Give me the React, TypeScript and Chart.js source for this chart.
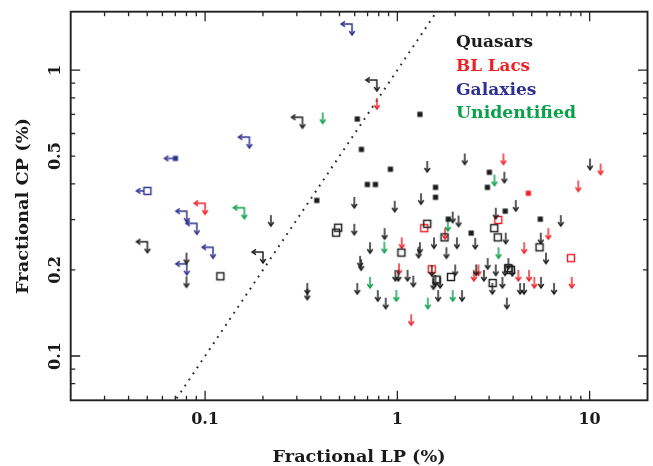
import React, { useEffect, useRef } from "react";
import { Chart, registerables } from "chart.js";

Chart.register(...registerables);

type Pt = [number, number]; // [fractional LP %, fractional CP %]

// ---------- axis ranges & labels ----------
const LP_RANGE = [0.02, 20];
const CP_RANGE = [0.07, 1.6];
const LP_TICK_VALUES = [0.1, 1, 10];
const LP_TICK_LABELS = ["0.1", "1", "10"];
const CP_TICK_VALUES = [0.1, 0.2, 0.5, 1];
const CP_TICK_LABELS = ["0.1", "0.2", "0.5", "1"];
const X_TITLE = "Fractional LP (%)";
const Y_TITLE = "Fractional CP (%)";
const LEGEND_LABELS = ["Quasars", "BL Lacs", "Galaxies", "Unidentified"];
const CP_EQUALS_LP = [0.02, 20];

// ---------- Quasars ----------
const quasarDetected: Pt[] = [
  [0.65, 0.528], [0.92, 0.45], [0.698, 0.398], [0.769, 0.398], [0.381, 0.35],
  [1.58, 0.389], [1.58, 0.359], [1.31, 0.7], [0.619, 0.674], [1.84, 0.301],
  [3.01, 0.439], [2.94, 0.389], [3.64, 0.321], [5.54, 0.301], [2.42, 0.269],
];
const quasarOpen: Pt[] = [
  [0.492, 0.281], [0.48, 0.27], [1.43, 0.29], [1.76, 0.26], [1.05, 0.23],
  [1.6, 0.185], [1.9, 0.189], [3.19, 0.28], [3.33, 0.26], [5.49, 0.24],
  [3.78, 0.203], [3.9, 0.2], [3.13, 0.18], [0.12, 0.19],
];
const quasarCPLimit: Pt[] = [
  [0.08, 0.23], [0.08, 0.19], [0.22, 0.311], [0.34, 0.18], [0.34, 0.172],
  [0.597, 0.36], [0.597, 0.29], [0.969, 0.349], [1.328, 0.371], [1.43, 0.481],
  [2.24, 0.511], [1.94, 0.32], [2.08, 0.31], [0.858, 0.28], [0.721, 0.25],
  [1.31, 0.25], [1.29, 0.241], [1.55, 0.26], [1.8, 0.24], [2.04, 0.26],
  [0.64, 0.224], [0.648, 0.218], [0.976, 0.2], [1.012, 0.2], [1.13, 0.2],
  [1.21, 0.191], [1.51, 0.208], [1.577, 0.192], [1.67, 0.189], [1.54, 0.187],
  [2.0, 0.209], [0.619, 0.18], [0.791, 0.17], [0.87, 0.16], [1.63, 0.17],
  [2.17, 0.17], [3.6, 0.441], [10.05, 0.49], [4.13, 0.351], [3.25, 0.33],
  [7.08, 0.311], [5.57, 0.27], [3.66, 0.27], [2.54, 0.259], [5.93, 0.23],
  [2.57, 0.209], [2.95, 0.22], [2.82, 0.2], [3.25, 0.209], [3.78, 0.22],
  [3.63, 0.209], [3.96, 0.208], [3.12, 0.18], [3.52, 0.189], [5.59, 0.189],
  [4.35, 0.18], [4.56, 0.18], [6.53, 0.18], [3.71, 0.16],
];
const quasarBothLimit: Pt[] = [[0.782, 0.923], [0.321, 0.684], [0.0501, 0.251], [0.2, 0.231]];

// ---------- BL Lacs ----------
const blLacDetected: Pt[] = [[4.8, 0.371]];
const blLacOpen: Pt[] = [[1.38, 0.28], [1.51, 0.201], [3.35, 0.299], [8.0, 0.22]];
const blLacCPLimit: Pt[] = [
  [0.782, 0.798], [3.56, 0.511], [11.4, 0.471], [8.73, 0.411], [1.77, 0.28],
  [1.054, 0.26], [6.1, 0.28], [4.57, 0.25], [1.02, 0.211], [2.5, 0.2],
  [2.64, 0.209], [4.26, 0.2], [4.84, 0.2], [5.16, 0.189], [8.07, 0.189], [1.18, 0.14],
];
const blLacBothLimit: Pt[] = [[0.1, 0.342]];

// ---------- Galaxies ----------
const galaxyLPLimitFilled: Pt[] = [[0.0701, 0.491]];
const galaxyLPLimitOpen: Pt[] = [[0.0501, 0.378]];
const galaxyBothLimit: Pt[] = [
  [0.581, 1.449], [0.17, 0.583], [0.0803, 0.321], [0.0906, 0.291], [0.11, 0.24], [0.0803, 0.21],
];

// ---------- Unidentified ----------
const unidCPLimit: Pt[] = [
  [0.409, 0.711], [3.2, 0.431], [1.83, 0.299], [0.856, 0.251], [3.36, 0.24],
  [0.721, 0.189], [0.988, 0.17], [1.44, 0.16], [1.94, 0.17],
];
const unidBothLimit: Pt[] = [[0.16, 0.33]];

const COL_Q = "#1c1c1c";
const COL_B = "#ec2229";
const COL_G = "#2e3192";
const COL_U = "#0aa04a";
const LEGEND_COLORS = [COL_Q, COL_B, COL_G, COL_U];
const FONT = '"DejaVu Serif", serif';

function makeMarker(kind: string, color: string): HTMLCanvasElement {
  const size = 34;
  const c = document.createElement("canvas");
  c.width = size;
  c.height = size;
  const g = c.getContext("2d")!;
  const o = size / 2;
  g.strokeStyle = color;
  g.fillStyle = color;
  g.lineWidth = 1.45;
  g.lineJoin = "miter";
  const L = 11, H = 4, W = 2.7;
  const downHead = () => {
    g.beginPath();
    g.moveTo(o - W, o + L - H);
    g.lineTo(o, o + L);
    g.lineTo(o + W, o + L - H);
    g.stroke();
  };
  const leftHead = () => {
    g.beginPath();
    g.moveTo(o - L + H, o - W);
    g.lineTo(o - L, o);
    g.lineTo(o - L + H, o + W);
    g.stroke();
  };
  if (kind === "down") {
    g.beginPath(); g.moveTo(o, o); g.lineTo(o, o + L); g.stroke();
    downHead();
  } else if (kind === "both") {
    g.beginPath(); g.moveTo(o - L, o); g.lineTo(o, o); g.lineTo(o, o + L); g.stroke();
    downHead(); leftHead();
  } else if (kind === "filled") {
    g.fillRect(o - 2.6, o - 2.6, 5.2, 5.2);
  } else if (kind === "open") {
    g.strokeRect(o - 3.5, o - 3.5, 7, 7);
  } else if (kind === "leftFilled") {
    g.fillRect(o - 2.6, o - 2.6, 5.2, 5.2);
    g.beginPath(); g.moveTo(o - 2.5, o); g.lineTo(o - L, o); g.stroke();
    leftHead();
  } else if (kind === "leftOpen") {
    g.strokeRect(o - 3.5, o - 3.5, 7, 7);
    g.beginPath(); g.moveTo(o - 3.5, o); g.lineTo(o - L, o); g.stroke();
    leftHead();
  }
  return c;
}

function drawText(
  ctx: CanvasRenderingContext2D, text: string, x: number, y: number, size: number,
  color: string, width: number | null, rotate: boolean, align: CanvasTextAlign
) {
  ctx.save();
  ctx.translate(x, y);
  if (rotate) ctx.rotate(-Math.PI / 2);
  ctx.font = `bold ${size}px ${FONT}`;
  const w = ctx.measureText(text).width;
  if (width) ctx.scale(width / w, 1);
  ctx.textAlign = align;
  ctx.textBaseline = "alphabetic";
  ctx.fillStyle = color;
  ctx.fillText(text, 0, 0);
  ctx.restore();
}

function logTicks(min: number, max: number) {
  const out: { v: number; major: boolean }[] = [];
  for (let e = -3; e <= 3; e++) {
    for (let m = 1; m <= 9; m++) {
      const v = m * Math.pow(10, e);
      if (v > min * 1.0001 && v < max * 0.9999) out.push({ v, major: m === 1 });
    }
  }
  return out;
}

const framePlugin = {
  id: "frame",
  afterDatasetsDraw(chart: any) {
    const { ctx, chartArea: a, scales } = chart;
    const xs = scales.x, ys = scales.y;
    ctx.save();
    ctx.strokeStyle = "#222";
    ctx.lineWidth = 1.3;
    for (const t of logTicks(LP_RANGE[0], LP_RANGE[1])) {
      const px = xs.getPixelForValue(t.v);
      const len = t.major ? 9.5 : 4.5;
      ctx.beginPath();
      ctx.moveTo(px, a.bottom); ctx.lineTo(px, a.bottom - len);
      ctx.moveTo(px, a.top); ctx.lineTo(px, a.top + len);
      ctx.stroke();
    }
    for (const t of logTicks(CP_RANGE[0], CP_RANGE[1])) {
      const py = ys.getPixelForValue(t.v);
      const len = t.major ? 9.5 : 4.5;
      ctx.beginPath();
      ctx.moveTo(a.left, py); ctx.lineTo(a.left + len, py);
      ctx.moveTo(a.right, py); ctx.lineTo(a.right - len, py);
      ctx.stroke();
    }
    ctx.lineWidth = 1.9;
    ctx.strokeRect(a.left, a.top, a.right - a.left, a.bottom - a.top);

    LP_TICK_VALUES.forEach((v, i) => {
      drawText(ctx, LP_TICK_LABELS[i], xs.getPixelForValue(v), a.bottom + 24, 16, "#1a1a1a", null, false, "center");
    });
    CP_TICK_VALUES.forEach((v, i) => {
      drawText(ctx, CP_TICK_LABELS[i], a.left - 10.5, ys.getPixelForValue(v), 16, "#1a1a1a", null, true, "center");
    });
    drawText(ctx, X_TITLE, (a.left + a.right) / 2, a.bottom + 61.5, 17, "#1a1a1a", 173, false, "center");
    drawText(ctx, Y_TITLE, a.left - 42.5, (a.top + a.bottom) / 2, 17, "#1a1a1a", 176, true, "center");
    const legendWidths = [77, 74, 80.5, 120];
    LEGEND_LABELS.forEach((s, i) => {
      drawText(ctx, s, a.left + 385.3, a.top + 35 + 23.9 * i, 16, LEGEND_COLORS[i], legendWidths[i], false, "left");
    });
    ctx.restore();
  },
};

export default function App() {
  const ref = useRef<HTMLCanvasElement>(null);
  useEffect(() => {
    const groups: { data: Pt[]; kind: string; color: string; label: string }[] = [
      { data: quasarDetected, kind: "filled", color: COL_Q, label: "Quasars" },
      { data: quasarOpen, kind: "open", color: COL_Q, label: "Quasars (open)" },
      { data: quasarCPLimit, kind: "down", color: COL_Q, label: "Quasars CP limit" },
      { data: quasarBothLimit, kind: "both", color: COL_Q, label: "Quasars limits" },
      { data: blLacDetected, kind: "filled", color: COL_B, label: "BL Lacs" },
      { data: blLacOpen, kind: "open", color: COL_B, label: "BL Lacs (open)" },
      { data: blLacCPLimit, kind: "down", color: COL_B, label: "BL Lacs CP limit" },
      { data: blLacBothLimit, kind: "both", color: COL_B, label: "BL Lacs limits" },
      { data: galaxyLPLimitFilled, kind: "leftFilled", color: COL_G, label: "Galaxies LP limit" },
      { data: galaxyLPLimitOpen, kind: "leftOpen", color: COL_G, label: "Galaxies LP limit (open)" },
      { data: galaxyBothLimit, kind: "both", color: COL_G, label: "Galaxies limits" },
      { data: unidCPLimit, kind: "down", color: COL_U, label: "Unidentified CP limit" },
      { data: unidBothLimit, kind: "both", color: COL_U, label: "Unidentified limits" },
    ];
    const datasets: any[] = groups.map((g) => ({
      type: "scatter",
      label: g.label,
      data: g.data.map(([x, y]) => ({ x, y })),
      pointStyle: makeMarker(g.kind, g.color),
      pointRadius: 2,
      borderColor: g.color,
      backgroundColor: g.color,
    }));
    datasets.push({
      type: "line",
      label: "CP = LP",
      data: CP_EQUALS_LP.map((v) => ({ x: v, y: v })),
      borderColor: "#2a2a2a",
      borderWidth: 2,
      borderDash: [1.8, 5.5],
      pointRadius: 0,
      fill: false,
    });
    const chart = new Chart(ref.current!, {
      type: "scatter",
      data: { datasets },
      options: {
        animation: false,
        responsive: false,
        devicePixelRatio: 1,
        events: [],
        layout: { padding: { left: 70.7, top: 11.7, right: 5.5, bottom: 65.7 } },
        plugins: { legend: { display: false }, tooltip: { enabled: false } },
        scales: {
          x: { type: "logarithmic", min: LP_RANGE[0], max: LP_RANGE[1], display: false },
          y: { type: "logarithmic", min: CP_RANGE[0], max: CP_RANGE[1], display: false },
        },
      },
      plugins: [framePlugin],
    } as any);
    return () => chart.destroy();
  }, []);
  return (
    <div style={{ position: "absolute", left: 0, top: 0, width: 653, height: 466, background: "#fff" }}>
      <canvas ref={ref} width={653} height={466} style={{ display: "block", width: 653, height: 466 }} />
    </div>
  );
}
